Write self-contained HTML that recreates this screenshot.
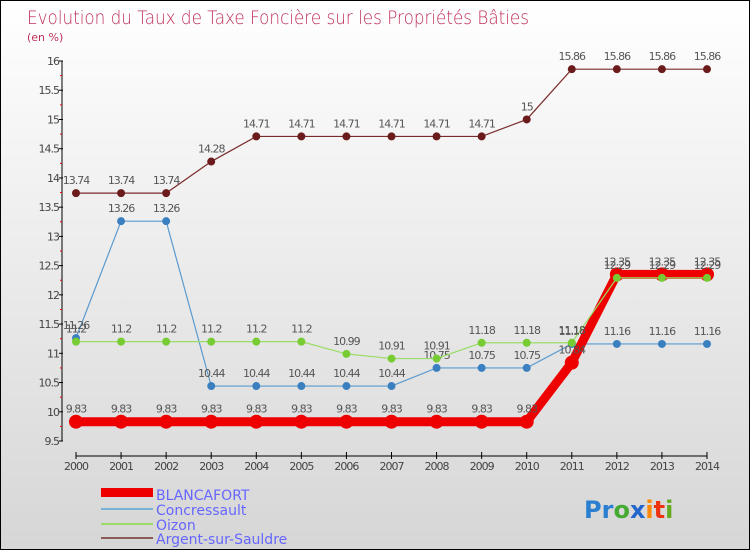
<!DOCTYPE html>
<html><head><meta charset="utf-8">
<style>
body{margin:0;}
#c{width:750px;height:550px;position:relative;box-sizing:border-box;border:1px solid #000;background:linear-gradient(#ffffff,#d6d6d6);overflow:hidden;font-family:"DejaVu Sans","Liberation Sans",sans-serif;}
svg text{font-family:"DejaVu Sans","Liberation Sans",sans-serif;}
</style></head><body>
<div id="c">
<svg id="s" width="750" height="550">
<text x="26" y="23" font-size="19" fill="#c0305a" style="font-weight:200" textLength="502" lengthAdjust="spacingAndGlyphs">Evolution du Taux de Taxe Foncière sur les Propriétés Bâties</text>
<text x="26" y="40" font-size="11" fill="#c0305a">(en %)</text>
<g id="axes"></g><g id="series"></g>
<g>
<rect x="100" y="487" width="52" height="9" fill="#ee0000"/>
<text x="155" y="499" font-size="14" fill="#6666ff">BLANCAFORT</text>
<rect x="100" y="507" width="52" height="2" fill="#7ab0d6"/>
<text x="155" y="514" font-size="14" fill="#6666ff">Concressault</text>
<rect x="100" y="522" width="52" height="2" fill="#99dd66"/>
<text x="155" y="529" font-size="14" fill="#6666ff">Oizon</text>
<rect x="100" y="536" width="52" height="2" fill="#8b5a5a"/>
<text x="155" y="543" font-size="14" fill="#6666ff">Argent-sur-Sauldre</text>
</g>
<text x="583" y="517" font-size="24" font-weight="bold"><tspan fill="#2a7fd0">Pr</tspan><tspan fill="#44aa33">o</tspan><tspan fill="#2266cc">x</tspan><tspan fill="#ff8800">i</tspan><tspan fill="#ee3311">t</tspan><tspan fill="#66aa22">i</tspan></text>
</svg>
</div>
<script>
const years=[2000,2001,2002,2003,2004,2005,2006,2007,2008,2009,2010,2011,2012,2013,2014];
const yTicks=[9.5,10,10.5,11,11.5,12,12.5,13,13.5,14,14.5,15,15.5,16];
const yTickLabels=["9.5","10","10.5","11","11.5","12","12.5","13","13.5","14","14.5","15","15.5","16"];
const blancafort=[9.83,9.83,9.83,9.83,9.83,9.83,9.83,9.83,9.83,9.83,9.83,10.84,12.35,12.35,12.35];
const concressault=[11.26,13.26,13.26,10.44,10.44,10.44,10.44,10.44,10.75,10.75,10.75,11.16,11.16,11.16,11.16];
const oizon=[11.2,11.2,11.2,11.2,11.2,11.2,10.99,10.91,10.91,11.18,11.18,11.18,12.29,12.29,12.29];
const argent=[13.74,13.74,13.74,14.28,14.71,14.71,14.71,14.71,14.71,14.71,15,15.86,15.86,15.86,15.86];
const NS="http://www.w3.org/2000/svg";
function xs(i){return 75+i*(706-75)/14;}
function ys(v){return 440-(v-9.5)*(380/6.5);}
function mk(tag,a,p){const e=document.createElementNS(NS,tag);for(const k in a)e.setAttribute(k,a[k]);p.appendChild(e);return e;}
const ax=document.getElementById('axes');
let e=mk('line',{x1:61,y1:60,x2:61,y2:440,stroke:'#000'},ax);


e=mk('line',{x1:75,y1:455,x2:706,y2:455,stroke:'#000'},ax);


yTicks.forEach((v,i)=>{const y=ys(v);
mk('line',{x1:58,y1:y,x2:62,y2:y,stroke:'#000'},ax);
if(i<yTicks.length-1)mk('line',{x1:59,y1:y-14.6,x2:61,y2:y-14.6,stroke:'#e00'},ax);
const t=mk('text',{x:58,y:y+4,'font-size':11,fill:'#444','text-anchor':'end','letter-spacing':'-1'},ax);t.textContent=yTickLabels[i];

});
years.forEach((yr,i)=>{const x=xs(i);mk('line',{x1:x,y1:451,x2:x,y2:458,stroke:'#000'},ax);
const t=mk('text',{x:x,y:469,'font-size':11,fill:'#444','text-anchor':'middle','letter-spacing':'-1'},ax);t.textContent=yr;

});
const sg=document.getElementById('series');
function draw(name,vals,color,lw,r,fill){const g=mk('g',{},sg);


const pts=vals.map((v,i)=>xs(i)+','+ys(v)).join(' ');
const l=mk('polyline',{points:pts,fill:'none',stroke:color,'stroke-width':lw},g);


vals.forEach((v,i)=>{const c=mk('circle',{cx:xs(i),cy:ys(v),r:r,fill:fill},g);


const t=mk('text',{x:xs(i),y:ys(v)-9,'font-size':11,fill:'#555','text-anchor':'middle','letter-spacing':'-1'},g);t.textContent=String(v);

});}
draw('argent',argent,'#7a2a2a',1.2,4,'#6b1b1b');
draw('concressault',concressault,'#5a9ad0',1.2,4,'#3a80c0');
draw('blancafort',blancafort,'#ee0000',9,7,'#ee0000');
draw('oizon',oizon,'#99dd66',1.2,4,'#77cc33');
</script>
</body></html>
